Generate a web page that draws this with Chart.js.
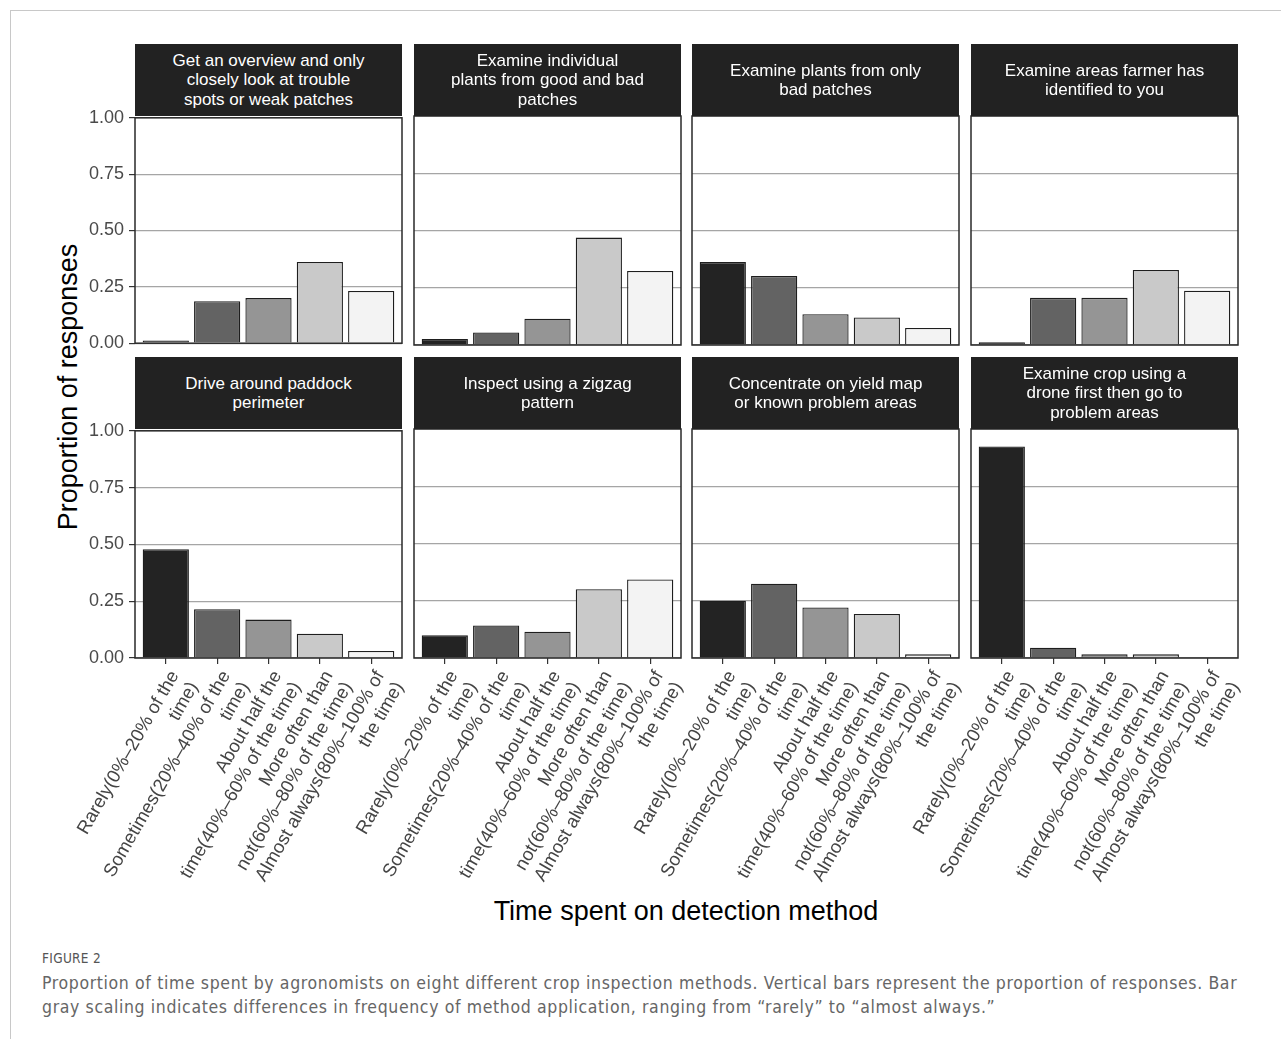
<!DOCTYPE html>
<html>
<head>
<meta charset="utf-8">
<script src="https://cdn.jsdelivr.net/npm/chart.js@4.4.1/dist/chart.umd.min.js"></script>
<style>
  body { margin: 0; background: #fff; width: 1281px; height: 1039px; overflow: hidden; position: relative;
         font-family: "Liberation Sans", Arial, sans-serif; }
  .card { position: absolute; left: 10px; top: 10px; width: 1300px; height: 1100px;
          border-left: 1px solid #c8c8c8; border-top: 1px solid #c8c8c8; }
  canvas { position: absolute; }
  .strip { position: absolute; height: 72px; background: #222; color: #fff; font-size: 17px; line-height: 19.5px;
           display: flex; align-items: center; justify-content: center; text-align: center; z-index: 5; }
  #ytitle { position: absolute; left: 68px; top: 387px; transform: translate(-50%, -50%) rotate(-90deg);
            font-size: 27px; white-space: nowrap; color: #000; }
  #xtitle { position: absolute; left: 686px; top: 911px; transform: translate(-50%, -50%);
            font-size: 27px; white-space: nowrap; color: #000; }
  #fig { position: absolute; left: 42px; top: 950px; font-size: 13.5px; color: #555; letter-spacing: 0.3px;
         font-family: "DejaVu Sans Condensed", "Liberation Sans Narrow", sans-serif; }
  #cap { position: absolute; left: 42px; top: 971px; font-size: 17.5px; line-height: 24px; color: #666;
         font-family: "DejaVu Sans Condensed", "Liberation Sans Narrow", sans-serif; }
  #cap span { display: block; white-space: nowrap; }
</style>
</head>
<body>
<div class="card"></div>
<div id="ytitle">Proportion of responses</div>
<div id="xtitle">Time spent on detection method</div>
<div id="fig">FIGURE 2</div>
<div id="cap">
  <span id="cap1">Proportion of time spent by agronomists on eight different crop inspection methods. Vertical bars represent the proportion of responses. Bar</span>
  <span id="cap2">gray scaling indicates differences in frequency of method application, ranging from “rarely” to “almost always.”</span>
</div>
<script>
// answer categories (x ticks, two lines each)
const categories = [
  ['Rarely(0%–20% of the', 'time)'],
  ['Sometimes(20%–40% of the', 'time)'],
  ['About half the', 'time(40%–60% of the time)'],
  ['More often than', 'not(60%–80% of the time)'],
  ['Almost always(80%–100% of', 'the time)']
];

// facet titles
const methods = [
  ['Get an overview and only', 'closely look at trouble', 'spots or weak patches'],
  ['Examine individual', 'plants from good and bad', 'patches'],
  ['Examine plants from only', 'bad patches'],
  ['Examine areas farmer has', 'identified to you'],
  ['Drive around paddock', 'perimeter'],
  ['Inspect using a zigzag', 'pattern'],
  ['Concentrate on yield map', 'or known problem areas'],
  ['Examine crop using a', 'drone first then go to', 'problem areas']
];

// proportion of responses, one array per method
const overview      = [0.012, 0.186, 0.200, 0.360, 0.232];
const goodAndBad    = [0.026, 0.055, 0.115, 0.469, 0.323];
const badOnly       = [0.362, 0.301, 0.134, 0.120, 0.074];
const farmerAreas   = [0.012, 0.206, 0.206, 0.328, 0.237];
const perimeter     = [0.479, 0.215, 0.169, 0.107, 0.031];
const zigzag        = [0.099, 0.142, 0.115, 0.300, 0.343];
const yieldMap      = [0.250, 0.324, 0.221, 0.192, 0.016];
const drone         = [0.924, 0.045, 0.016, 0.016, 0.000];

const yTicks = [0, 0.25, 0.5, 0.75, 1];
const barColors = ['#232323', '#636363', '#959595', '#c9c9c9', '#f3f3f3'];

const series = [overview, goodAndBad, badOnly, farmerAreas, perimeter, zigzag, yieldMap, drone];

Chart.defaults.font.family = '"Liberation Sans", Arial, sans-serif';

// panel layout
const colLeft = [135, 414, 692, 971];
const plotW = 267;
const rowTop = [116, 429];
const plotH = 229;
const stripH = 72;
const M = 150, R = 40, T = 14;

// draws the box round each panel
const frame = {
  id: 'frame',
  afterDraw(chart) {
    const { ctx, chartArea: a } = chart;
    ctx.save();
    ctx.strokeStyle = '#2a2a2a';
    ctx.lineWidth = 1.5;
    ctx.strokeRect(a.left, a.top, a.right - a.left, a.bottom - a.top);
    ctx.restore();
  }
};

series.forEach((vals, i) => {
  const c = i % 4, r = Math.floor(i / 4);
  const bottom = r === 1, left = c === 0;
  const xh = bottom ? 270 : 14;

  const strip = document.createElement('div');
  strip.className = 'strip';
  strip.style.left = colLeft[c] + 'px';
  strip.style.top = (rowTop[r] - stripH) + 'px';
  strip.style.width = plotW + 'px';
  strip.innerHTML = methods[i].join('<br>');
  document.body.appendChild(strip);

  const cv = document.createElement('canvas');
  cv.width = M + plotW + R;
  cv.height = T + plotH + xh;
  cv.style.left = (colLeft[c] - M) + 'px';
  cv.style.top = (rowTop[r] - T) + 'px';
  cv.style.width = cv.width + 'px';
  cv.style.height = cv.height + 'px';
  document.body.appendChild(cv);

  new Chart(cv, {
    type: 'bar',
    data: {
      datasets: [{
        data: vals.map((v, k) => ({ x: k + 1, y: v })),
        backgroundColor: barColors,
        borderColor: '#1e1e1e',
        borderWidth: 1.3,
        barPercentage: 0.9,
        categoryPercentage: 1.0
      }]
    },
    options: {
      responsive: false,
      animation: false,
      layout: { padding: { left: 0, right: R, top: T, bottom: 0 } },
      plugins: { legend: { display: false }, tooltip: { enabled: false } },
      scales: {
        x: {
          type: 'linear', min: 0.4, max: 5.6, offset: false,
          afterBuildTicks: s => { s.ticks = categories.map((_, k) => ({ value: k + 1 })); },
          afterFit: s => { s.height = xh; },
          grid: { display: bottom, offset: false, drawOnChartArea: false, drawTicks: true, tickLength: 6,
                  tickColor: '#333', lineWidth: 1.2 },
          border: { display: false },
          ticks: { display: bottom, autoSkip: false, minRotation: 60, maxRotation: 60, padding: 3,
                   labelOffset: 9, color: '#444', font: { size: 18.5 }, callback: v => categories[v - 1] }
        },
        y: {
          min: 0, max: 1,
          afterBuildTicks: s => { s.ticks = yTicks.map(v => ({ value: v })); },
          afterFit: s => { s.width = M; },
          grid: { color: '#a5a5a5', lineWidth: 1.2, drawTicks: left, tickLength: 6, tickColor: '#333' },
          border: { display: false },
          ticks: { display: left, padding: 5, color: '#4a4a4a', font: { size: 18 },
                   callback: v => v.toFixed(2) }
        }
      }
    },
    plugins: [frame]
  });
});

// stretch caption line 1 to the card width
const cap1 = document.getElementById('cap1');
const cap2 = document.getElementById('cap2');
const w1 = cap1.getBoundingClientRect().width;
const ls = (1195 - w1) / cap1.textContent.length;
cap1.style.letterSpacing = ls + 'px';
cap2.style.letterSpacing = ls + 'px';
</script>
</body>
</html>
